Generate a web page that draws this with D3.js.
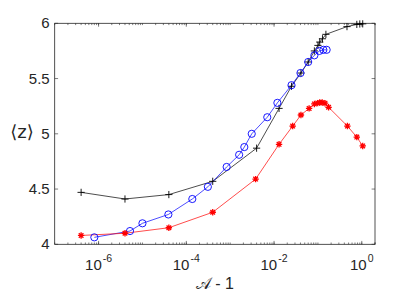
<!DOCTYPE html>
<html>
<head>
<meta charset="utf-8">
<script src="https://cdn.jsdelivr.net/npm/d3@7"></script>
<style>
body { margin:0; background:#fff; }
text { font-family: "Liberation Sans", Arial, sans-serif; fill:#262626; }
</style>
</head>
<body>
<svg id="graph"></svg>
<script>
// black (+)
var blackX = [4e-7,4e-6,4e-5,4e-4,4e-3,0.013,0.025,0.041,0.06,0.083,0.1,0.11,0.127,0.152,0.46,0.77,0.9,1.05]
var blackY = [4.47,4.41,4.45,4.57,4.87,5.23,5.43,5.55,5.65,5.75,5.80,5.83,5.86,5.90,5.97,5.99,5.994,5.995]
// blue (o)
var blueX = [8e-7,5.2e-6,1e-5,3.9e-5,1.37e-4,3.1e-4,8.3e-4,1.6e-3,2.1e-3,3.1e-3,7e-3,0.0119,0.025,0.04,0.06,0.083,0.108,0.133,0.158]
var blueY = [4.063,4.12,4.19,4.27,4.41,4.52,4.70,4.81,4.88,5.00,5.15,5.28,5.44,5.55,5.65,5.71,5.75,5.76,5.76]
// red (*)
var redX = [4e-7,4e-6,4e-5,4e-4,3.8e-3,0.013,0.0266,0.041,0.063,0.083,0.099,0.11,0.125,0.145,0.175,0.47,0.77,1.05]
var redY = [4.08,4.10,4.15,4.29,4.59,4.905,5.07,5.17,5.23,5.27,5.278,5.283,5.283,5.277,5.24,5.07,4.97,4.89]

var yTicks = [4,4.5,5,5.5,6]
var yTickLabels = ["4","4.5","5","5.5","6"]
var xTickExp = [-6,-4,-2,0]

var screen = {width:415,height:295}
var plot = {left:54.7,right:375,top:23.3,bottom:244.3}

var svg = d3.select("#graph")
.attr("width",screen.width)
.attr("height",screen.height)

var xscale = d3.scaleLog()
.domain([1e-7,2])
.range([plot.left,plot.right])

var yscale = d3.scaleLinear()
.domain([4,6])
.range([plot.bottom,plot.top])

var axisColor = "#262626"

// minor ticks on the log axis
var minor = []
for (var e = -7; e <= 0; e++)
{
    for (var m = 1; m <= 9; m++)
    {
        var v = m*Math.pow(10,e)
        if (v >= 1e-7 && v <= 2) minor.push(v)
    }
}
minor.push(2)

var tickG = svg.append("g")
.attr("stroke",axisColor)
.attr("stroke-width",0.6)

tickG.selectAll(".xminb")
.data(minor)
.enter()
.append("line")
.attr("x1",function(d){return xscale(d)})
.attr("x2",function(d){return xscale(d)})
.attr("y1",plot.bottom)
.attr("y2",plot.bottom-1.8)

tickG.selectAll(".xmint")
.data(minor)
.enter()
.append("line")
.attr("x1",function(d){return xscale(d)})
.attr("x2",function(d){return xscale(d)})
.attr("y1",plot.top)
.attr("y2",plot.top+1.8)

tickG.selectAll(".xmaj")
.data(xTickExp)
.enter()
.append("path")
.attr("d",function(d)
{
    var x = xscale(Math.pow(10,d))
    return "M"+x+","+plot.bottom+"v-3.4M"+x+","+plot.top+"v3.4"
})

tickG.selectAll(".ymaj")
.data(yTicks)
.enter()
.append("path")
.attr("d",function(d)
{
    var y = yscale(d)
    return "M"+plot.left+","+y+"h3.4M"+plot.right+","+y+"h-3.4"
})

svg.append("rect")
.attr("x",plot.left)
.attr("y",plot.top)
.attr("width",plot.right-plot.left)
.attr("height",plot.bottom-plot.top)
.attr("fill","none")
.attr("stroke",axisColor)
.attr("stroke-width",0.8)

// tick labels
svg.selectAll(".ylab")
.data(yTicks)
.enter()
.append("text")
.attr("x",plot.left-5)
.attr("y",function(d){return yscale(d)+5})
.attr("text-anchor","end")
.attr("font-size",15)
.text(function(d,i){return yTickLabels[i]})

var xl = svg.selectAll(".xlab")
.data(xTickExp)
.enter()
.append("text")
.attr("x",function(d){return xscale(Math.pow(10,d))})
.attr("y",plot.bottom+25.5)
.attr("text-anchor","middle")
.attr("font-size",15)

xl.append("tspan")
.text("10")
xl.append("tspan")
.attr("dy",-8)
.attr("dx",1)
.attr("font-size",10.5)
.text(function(d){return String(d)})

// axis titles
svg.append("text")
.attr("x",(plot.left+plot.right)/2)
.attr("y",289)
.attr("text-anchor","middle")
.attr("font-size",16)
.text("\uD835\uDC9C - 1")

svg.append("text")
.attr("x",22)
.attr("y",138)
.attr("text-anchor","middle")
.attr("font-size",18)
.style("font-family","'DejaVu Sans', sans-serif")
.text("\u27E8z\u27E9")

var line = d3.line()
.x(function(d){return xscale(d[0])})
.y(function(d){return yscale(d[1])})

var zipData = function(xs,ys)
{
    return xs.map(function(x,i){return [x,ys[i]]})
}

var blackData = zipData(blackX,blackY)
var blueData = zipData(blueX,blueY)
var redData = zipData(redX,redY)

svg.append("path")
.datum(blackData)
.attr("d",line)
.attr("fill","none")
.attr("stroke","#000")
.attr("stroke-width",0.7)

svg.append("path")
.datum(blueData)
.attr("d",line)
.attr("fill","none")
.attr("stroke","#0000ff")
.attr("stroke-width",0.7)

svg.append("path")
.datum(redData)
.attr("d",line)
.attr("fill","none")
.attr("stroke","#ff0000")
.attr("stroke-width",0.7)

// markers
svg.selectAll(".plus")
.data(blackData)
.enter()
.append("path")
.attr("d",function(d)
{
    var x = xscale(d[0]), y = yscale(d[1]), s = 3.6
    return "M"+(x-s)+","+y+"h"+(2*s)+"M"+x+","+(y-s)+"v"+(2*s)
})
.attr("stroke","#000")
.attr("stroke-width",0.9)

svg.selectAll(".circ")
.data(blueData)
.enter()
.append("circle")
.attr("cx",function(d){return xscale(d[0])})
.attr("cy",function(d){return yscale(d[1])})
.attr("r",3.6)
.attr("fill","none")
.attr("stroke","#0000ff")
.attr("stroke-width",0.9)

svg.selectAll(".star")
.data(redData)
.enter()
.append("path")
.attr("d",function(d)
{
    var x = xscale(d[0]), y = yscale(d[1]), s = 3.2, t = 2.3
    return "M"+(x-s)+","+y+"h"+(2*s)+"M"+x+","+(y-s)+"v"+(2*s)
    +"M"+(x-t)+","+(y-t)+"l"+(2*t)+","+(2*t)
    +"M"+(x-t)+","+(y+t)+"l"+(2*t)+","+(-2*t)
})
.attr("stroke","#ff0000")
.attr("stroke-width",1.3)
</script>
</body>
</html>
